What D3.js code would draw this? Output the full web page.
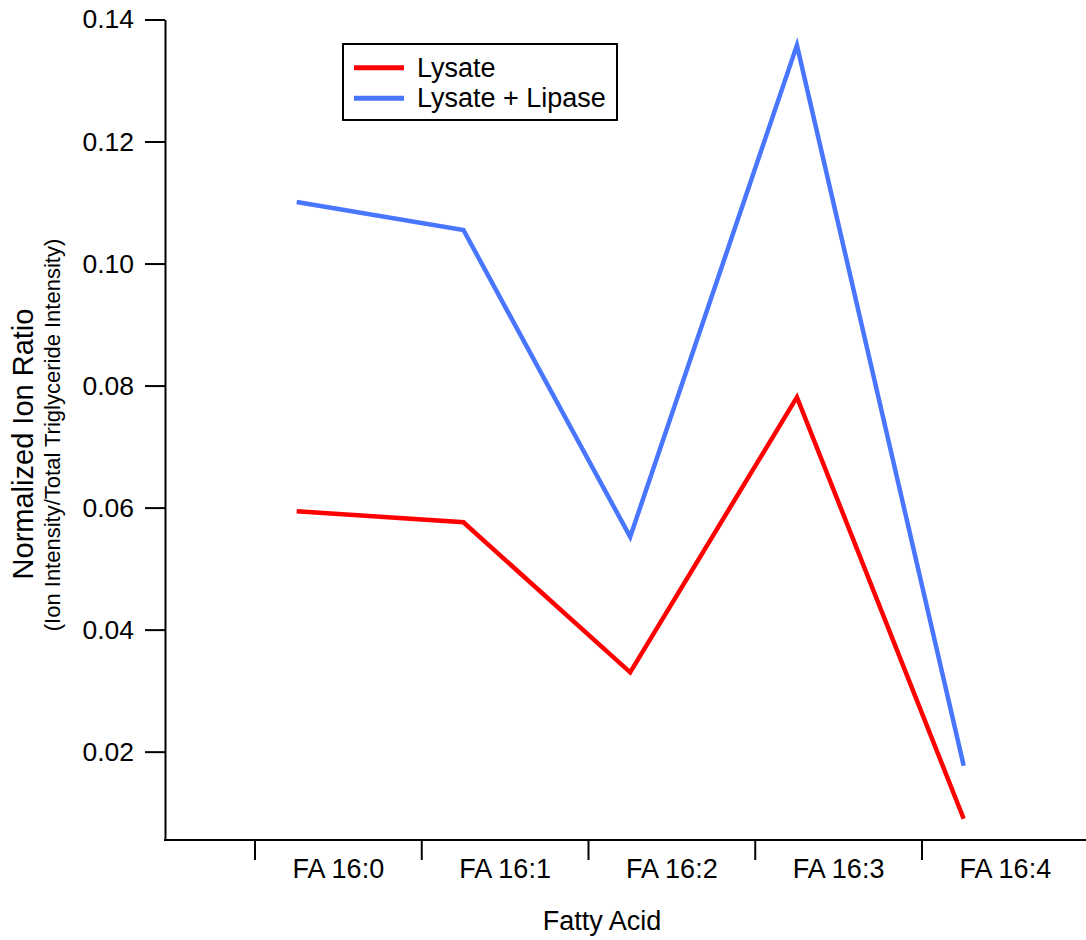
<!DOCTYPE html>
<html>
<head>
<meta charset="utf-8">
<script src="https://cdn.jsdelivr.net/npm/d3@7"></script>
<style>
  html, body { margin: 0; padding: 0; background: #ffffff; }
  svg { display: block; font-family: "Liberation Sans", Arial, sans-serif; }
</style>
</head>
<body>
<svg id="chart" width="1086" height="940"></svg>
<script>
// Fatty acid categories and the two measured series
const categories = ["FA 16:0", "FA 16:1", "FA 16:2", "FA 16:3", "FA 16:4"];
const lysate = [0.0594, 0.0576, 0.0330, 0.0781, 0.0090];
const lysateLipase = [0.1101, 0.1055, 0.0552, 0.1358, 0.0177];
const yTicks = [0.02, 0.04, 0.06, 0.08, 0.10, 0.12, 0.14];
const yDomain = [0.00552, 0.14];
const seriesNames = ["Lysate", "Lysate + Lipase"];
const seriesColors = ["#ff0000", "#4876ff"];

const svg = d3.select("#chart");

const axisLeft = 165, axisBottom = 840, axisTop = 19.5, rightEdge = 1086;
const bandStart = 255, bandStep = 166.75;

const x = d3.scaleBand()
  .domain(categories)
  .range([bandStart, bandStart + bandStep * categories.length])
  .padding(0);

const y = d3.scaleLinear().domain(yDomain).range([axisBottom, axisTop]);

// points sit a quarter of the way into each category band
const px = c => x(c) + x.bandwidth() * 0.25;

// y axis
const yAxis = svg.append("g")
  .attr("transform", `translate(${axisLeft},0)`)
  .call(d3.axisLeft(y).tickValues(yTicks).tickFormat(d3.format(".2f"))
    .tickSize(20).tickSizeOuter(0).tickPadding(11));
yAxis.select(".domain").attr("stroke", "#000").attr("stroke-width", 2);
yAxis.selectAll(".tick line").attr("stroke", "#000").attr("stroke-width", 2);
yAxis.selectAll(".tick text").attr("font-size", 26.5).attr("fill", "#000")
  .attr("font-family", "Liberation Sans, Arial, sans-serif");

// x axis line spanning the plot width
svg.append("line")
  .attr("x1", axisLeft - 1).attr("x2", rightEdge)
  .attr("y1", axisBottom).attr("y2", axisBottom)
  .attr("stroke", "#000").attr("stroke-width", 2);

// category boundary ticks
svg.append("g").selectAll("line")
  .data(categories)
  .join("line")
  .attr("x1", d => x(d)).attr("x2", d => x(d))
  .attr("y1", axisBottom).attr("y2", axisBottom + 20)
  .attr("stroke", "#000").attr("stroke-width", 2);

// category labels centred in each band
svg.append("g").selectAll("text")
  .data(categories)
  .join("text")
  .attr("x", d => x(d) + x.bandwidth() / 2)
  .attr("y", 877.5)
  .attr("text-anchor", "middle")
  .attr("font-size", 27)
  .attr("fill", "#000")
  .text(d => d);

// axis titles
svg.append("text")
  .attr("x", 602).attr("y", 929.5)
  .attr("text-anchor", "middle")
  .attr("font-size", 27)
  .text("Fatty Acid");

svg.append("text")
  .attr("transform", "translate(33,444) rotate(-90)")
  .attr("text-anchor", "middle")
  .attr("font-size", 29)
  .text("Normalized Ion Ratio");

svg.append("text")
  .attr("transform", "translate(60,435) rotate(-90)")
  .attr("text-anchor", "middle")
  .attr("font-size", 22)
  .text("(Ion Intensity/Total Triglyceride Intensity)");

// series lines
const line = d3.line()
  .x((d, i) => px(categories[i]))
  .y(d => y(d));

[lysate, lysateLipase].forEach((vals, k) => {
  svg.append("path")
    .datum(vals)
    .attr("d", line)
    .attr("fill", "none")
    .attr("stroke", seriesColors[k])
    .attr("stroke-width", 4.5)
    .attr("stroke-linejoin", "miter")
    .attr("stroke-linecap", "butt");
});

// legend
const legend = svg.append("g");
legend.append("rect")
  .attr("x", 343).attr("y", 44)
  .attr("width", 274).attr("height", 76)
  .attr("fill", "#fff").attr("stroke", "#000").attr("stroke-width", 2);

seriesNames.forEach((name, k) => {
  const ly = 67.7 + k * 30.6;
  legend.append("line")
    .attr("x1", 354).attr("x2", 404)
    .attr("y1", ly).attr("y2", ly)
    .attr("stroke", seriesColors[k]).attr("stroke-width", 5);
  legend.append("text")
    .attr("x", 417).attr("y", ly + 9)
    .attr("font-size", 27)
    .text(name);
});
</script>
</body>
</html>
